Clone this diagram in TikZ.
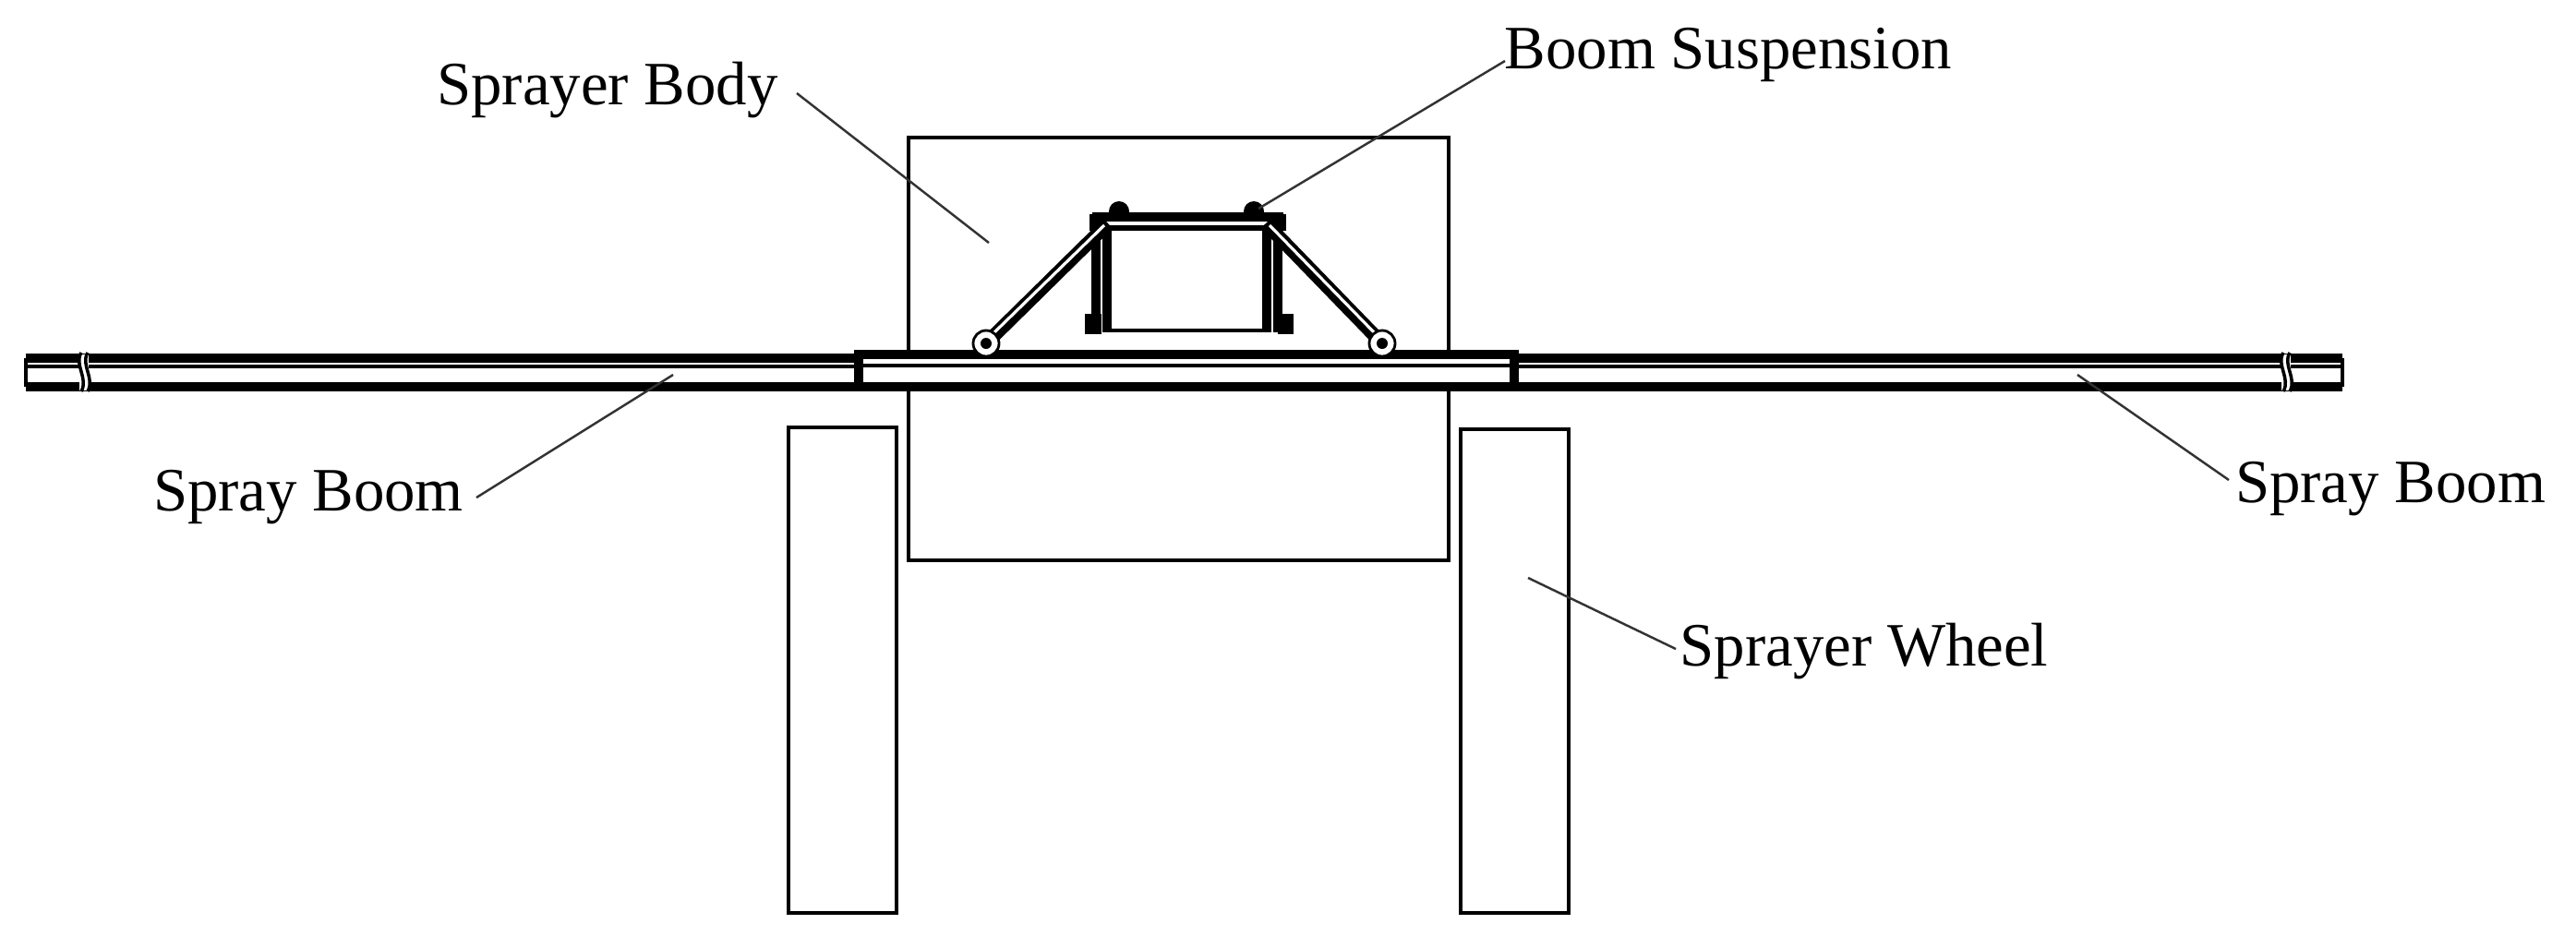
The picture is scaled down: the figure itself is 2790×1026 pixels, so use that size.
\documentclass[tikz,border=0pt]{standalone}
\usepackage{fontspec}
\setmainfont{Liberation Serif}
\begin{document}
\begin{tikzpicture}[x=0.01cm,y=-0.01cm,
  outl/.style={draw=black,line width=1pt},
  thick2/.style={draw=black,line width=2.6pt},
  diag/.style={draw=black,line width=4.2pt},
  lead/.style={draw=black!80,line width=0.7pt},
  lbl/.style={font=\fontsize{19}{22}\selectfont,inner sep=0pt}]
\useasboundingbox (0,0) rectangle (2790,1026);
% body and wheels
\draw[outl,fill=white] (984,149) rectangle (1569,607);
\draw[outl,fill=white] (854,463) rectangle (971,989);
\draw[outl,fill=white] (1582,465) rectangle (1699,989);
% left boom
\fill[white] (28,388) rectangle (930,420);
\draw[thick2] (28,388) -- (930,388);
\draw[outl] (28,397) -- (930,397);
\draw[thick2] (28,419) -- (930,419);
\draw[outl] (28,388) -- (28,419);
% right boom
\fill[white] (1640,388) rectangle (2537,420);
\draw[thick2] (1640,388) -- (2537,388);
\draw[outl] (1640,397) -- (2537,397);
\draw[thick2] (1640,419) -- (2537,419);
\draw[outl] (2537,388) -- (2537,419);
% breaks
\fill[white] (86,384) rectangle (96,423);
\draw[outl] (88,382) .. controls (80,395) and (96,410) .. (88,424);
\draw[outl] (95,382) .. controls (87,395) and (103,410) .. (95,424);
\fill[white] (2471,384) rectangle (2481,423);
\draw[outl] (2473,382) .. controls (2465,395) and (2481,410) .. (2473,424);
\draw[outl] (2480,382) .. controls (2472,395) and (2488,410) .. (2480,424);
% center beam
\draw[thick2,fill=white] (930,384) rectangle (1640,419);
\draw[outl] (930,396) -- (1640,396);
% suspension
\draw[thick2] (1183,235) -- (1390,235);
\draw[line width=1.6pt] (1183,235) rectangle (1390,247);
\draw[thick2] (1187,240) -- (1187,360);
\draw[thick2] (1199,247) -- (1199,360);
\draw[thick2] (1372,247) -- (1372,360);
\draw[thick2] (1384,240) -- (1384,360);
\draw[outl] (1199,358) -- (1372,358);
\fill (1175,340) rectangle (1193,362);
\fill (1384,340) rectangle (1401,362);
\fill (1212,229) circle (11);
\fill (1358,229) circle (11);
\draw[diag] (1068,372) -- (1200,242);
\draw[white,line width=0.9pt] (1075,362) -- (1196,244);
\draw[diag] (1497,372) -- (1371,242);
\draw[white,line width=0.9pt] (1490,362) -- (1375,244);
\node[circle,draw,line width=0.8pt,fill=white,minimum size=0.28cm,inner sep=0pt] (pl) at (1068,372) {};
\fill (pl) circle (6);
\node[circle,draw,line width=0.8pt,fill=white,minimum size=0.28cm,inner sep=0pt] (pr) at (1497,372) {};
\fill (pr) circle (6);
% labels
\node[lbl] (tb) at (658,98) {Sprayer Body};
\coordinate (cb) at (1071,263);
\draw[lead] (863,101) -- (cb);
\node[lbl] (ts) at (1872,59) {Boom Suspension};
\coordinate (cs) at (1363,226);
\draw[lead] (1630,66) -- (cs);
\node[lbl] (tl) at (334,539) {Spray Boom};
\coordinate (cl) at (729,406);
\draw[lead] (516,539) -- (cl);
\node[lbl] (tr) at (2589,530) {Spray Boom};
\coordinate (cr) at (2250,406);
\draw[lead] (2414,520) -- (cr);
\node[lbl] (tw) at (2019,706) {Sprayer Wheel};
\coordinate (cw) at (1655,626);
\draw[lead] (1815,703) -- (cw);
\end{tikzpicture}
\end{document}
